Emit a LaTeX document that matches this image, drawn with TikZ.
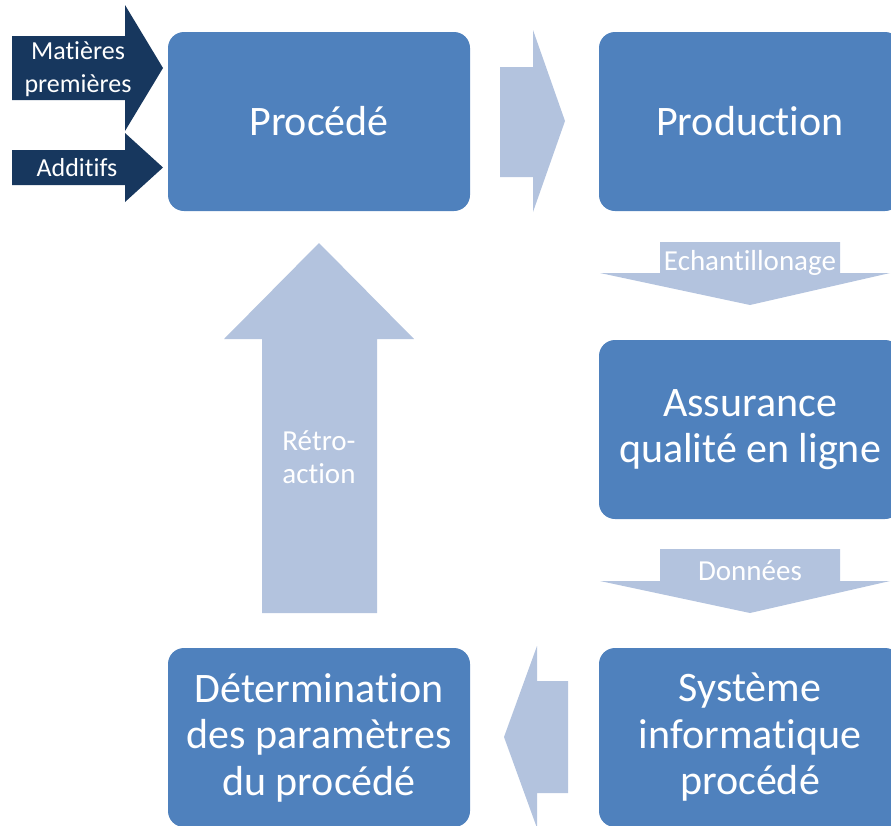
\documentclass[tikz,border=0pt]{standalone}
\usepackage{fontspec}
\setmainfont{Carlito}[Ligatures=NoCommon]
\definecolor{boxblue}{RGB}{79,129,189}
\definecolor{palearrow}{RGB}{179,195,222}
\definecolor{navyarrow}{RGB}{23,55,94}

\begin{document}
\begin{tikzpicture}[x=1pt,y=-1pt,
 stage/.style={fill=boxblue,rounded corners=16pt,text=white,align=center,
  font=\fontsize{42}{46.5}\selectfont,minimum width=302pt,minimum height=179pt,inner sep=0pt},
 inlabel/.style={text=white,align=center,font=\fontsize{26}{33}\selectfont,inner sep=0pt},
 flowlabel/.style={text=white,align=center,font=\fontsize{29}{33}\selectfont,inner sep=0pt}]
 \useasboundingbox (0,0) rectangle (891,825);
 % inputs
 \fill[navyarrow] (12,36)--(125,36)--(125,5)--(163,68)--(125,131)--(125,100)--(12,100)--cycle;
 \fill[navyarrow] (12,150)--(125,150)--(125,133)--(163,167.5)--(125,202)--(125,185)--(12,185)--cycle;
 \node[inlabel] (raw) at (78,69.5) {Matières\\premières};
 \node[inlabel] (add) at (77,168) {Additifs};
 % flow arrows
 \fill[palearrow] (500,67)--(533,67)--(533,30)--(565,121)--(533,212)--(533,177)--(500,177)--cycle;
 \fill[palearrow] (660,242)--(840,242)--(840,273)--(890,273)--(750,305)--(600,273)--(660,273)--cycle;
 \fill[palearrow] (660,549)--(840,549)--(840,581)--(890,581)--(750,613)--(600,581)--(660,581)--cycle;
 \fill[palearrow] (568,681)--(537,681)--(537,646)--(504,737)--(537,828)--(537,793)--(568,793)--cycle;
 \fill[palearrow] (262,613)--(262,339)--(224,339)--(319,243)--(414,339)--(377,339)--(377,613)--cycle;
 \node[flowlabel] (samp) at (750,263) {Echantillonage};
 \node[flowlabel] (data) at (750,571) {Données};
 \node[flowlabel] (fb) at (319,457) {Rétro-\\action};
 % stages
 \node[stage] (proc) at (319,121.5) {Procédé};
 \node[stage] (prod) at (750,121.5) {Production};
 \node[stage] (qa) at (750,429.5) {\raisebox{-2pt}{Assurance}\\\raisebox{-2pt}{qualité en ligne}};
 \node[stage] (sys) at (750,737.5) {Système\\informatique\\procédé};
 \node[stage] (det) at (319,737.5) {Détermination\\des paramètres\\du procédé};
\end{tikzpicture}
\end{document}
